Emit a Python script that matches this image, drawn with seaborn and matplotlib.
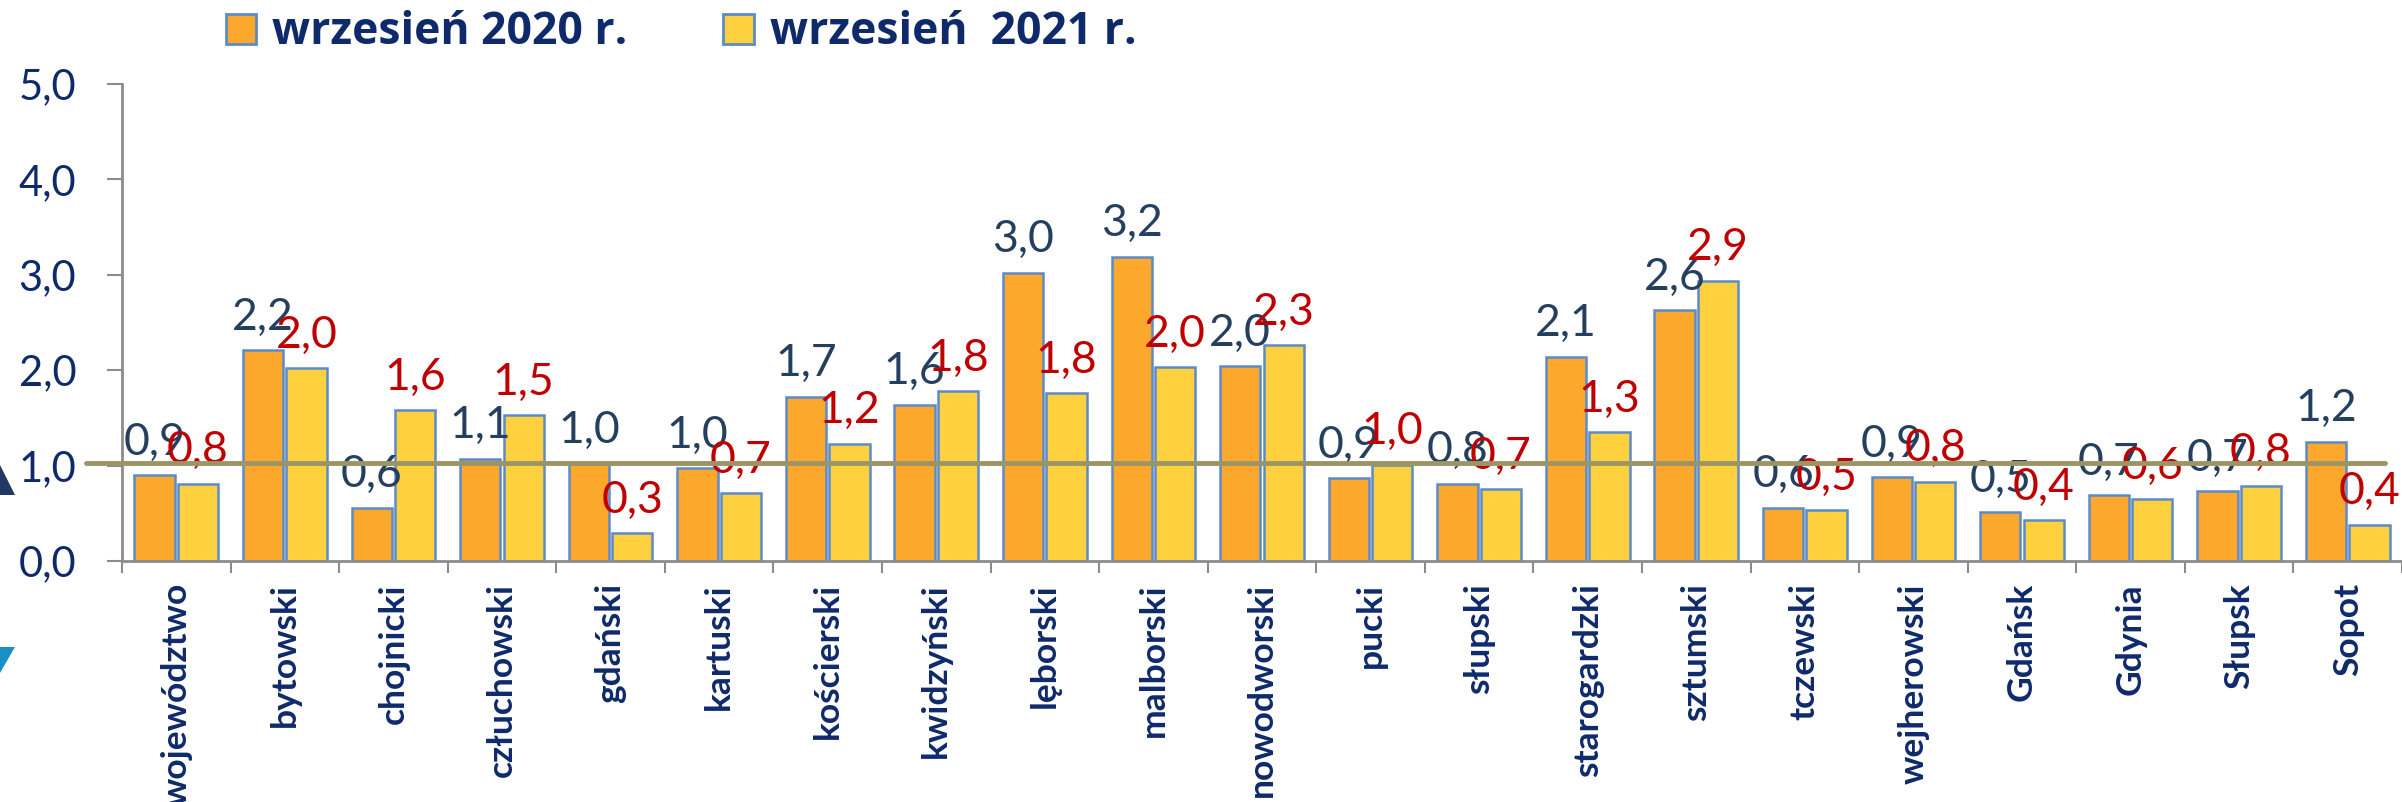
import matplotlib
matplotlib.use("Agg")
import matplotlib.pyplot as plt
import seaborn as sns
import pandas as pd
import numpy as np
from matplotlib.patches import Patch, Polygon
from matplotlib.ticker import FuncFormatter

# ---------------- data ----------------
categories = ["województwo", "bytowski", "chojnicki", "człuchowski", "gdański",
              "kartuski", "kościerski", "kwidzyński", "lęborski", "malborski",
              "nowodworski", "pucki", "słupski", "starogardzki", "sztumski",
              "tczewski", "wejherowski", "Gdańsk", "Gdynia", "Słupsk", "Sopot"]
series_names = ["wrzesień 2020 r.", "wrzesień  2021 r."]
values_2020 = [0.90, 2.21, 0.56, 1.07, 1.02, 0.97, 1.72, 1.64, 3.02, 3.19, 2.04,
               0.87, 0.81, 2.14, 2.63, 0.56, 0.88, 0.51, 0.69, 0.73, 1.25]
values_2021 = [0.81, 2.02, 1.58, 1.53, 0.29, 0.71, 1.23, 1.78, 1.76, 2.03, 2.26,
               1.01, 0.75, 1.35, 2.94, 0.53, 0.83, 0.43, 0.65, 0.79, 0.38]
labels_2020 = [0.9, 2.2, 0.6, 1.1, 1.0, 1.0, 1.7, 1.6, 3.0, 3.2, 2.0,
               0.9, 0.8, 2.1, 2.6, 0.6, 0.9, 0.5, 0.7, 0.7, 1.2]
labels_2021 = [0.8, 2.0, 1.6, 1.5, 0.3, 0.7, 1.2, 1.8, 1.8, 2.0, 2.3,
               1.0, 0.7, 1.3, 2.9, 0.5, 0.8, 0.4, 0.6, 0.8, 0.4]
y_ticks = [0, 1, 2, 3, 4, 5]
reference_level = 1.03

# ---------------- style ----------------
ORANGE = "#FCA82D"
YELLOW = "#FFD13E"
EDGE = "#5B8BCB"
NAVY = "#0F2A6B"
LABEL20 = "#253F5F"
LABEL21 = "#C00000"
GRID_GRAY = "#8C8C8C"
REF_COLOR = "#9B9565"

sns.set_theme(style="white")
plt.rcParams["font.family"] = ["Lato", "DejaVu Sans"]

df = pd.DataFrame({
    "kategoria": categories * 2,
    "wartość": values_2020 + values_2021,
    "seria": [series_names[0]] * len(categories) + [series_names[1]] * len(categories),
})

W, H = 2402, 802
fig = plt.figure(figsize=(W / 100, H / 100), dpi=100)
ax = fig.add_axes([122 / W, 1 - 561 / H, (W - 122) / W, (561 - 84) / H])

sns.barplot(data=df, x="kategoria", y="wartość", hue="seria",
            palette=[ORANGE, YELLOW], saturation=1, width=0.8, gap=0.07,
            edgecolor=EDGE, linewidth=1.8, ax=ax, legend=False, errorbar=None)

def fmt(v):
    return f"{v:.1f}".replace(".", ",")

ax.bar_label(ax.containers[0], labels=[fmt(v) for v in labels_2020],
             padding=9, color=LABEL20, fontsize=32)
ax.bar_label(ax.containers[1], labels=[fmt(v) for v in labels_2021],
             padding=9, color=LABEL21, fontsize=32)

# reference line
ax.axhline(reference_level, xmin=-0.0158, xmax=0.9925, color=REF_COLOR,
           lw=3.5, clip_on=False, zorder=5)

# axes
ax.set_ylim(0, 5)
ax.set_xlim(-0.5, len(categories) - 0.5)
ax.set_yticks(y_ticks)
ax.yaxis.set_major_formatter(FuncFormatter(lambda v, p: fmt(v)))
ax.set_xlabel("")
ax.set_ylabel("")
ax.set_xticks(range(len(categories)))
ax.set_xticklabels(categories, rotation=90, fontweight="bold", fontsize=25.5,
                   color=NAVY, va="top", ha="center")
ax.set_xticks(np.arange(-0.5, len(categories), 1), minor=True)
ax.tick_params(axis="x", which="major", length=0, pad=16)
ax.tick_params(axis="x", which="minor", length=8.6, width=1.5, color=GRID_GRAY,
               direction="out", bottom=True)
ax.tick_params(axis="y", which="major", length=11, width=1.5, color=GRID_GRAY,
               direction="out", left=True, labelsize=30, labelcolor=NAVY, pad=22)
for s in ["top", "right"]:
    ax.spines[s].set_visible(False)
for s in ["left", "bottom"]:
    ax.spines[s].set_color(GRID_GRAY)
    ax.spines[s].set_linewidth(2)

# legend
handles = [Patch(facecolor=ORANGE, edgecolor=EDGE, linewidth=2),
           Patch(facecolor=YELLOW, edgecolor=EDGE, linewidth=2)]
fig.legend(handles=handles, labels=series_names, ncol=2, loc="center left",
           bbox_to_anchor=(226 / W, 1 - 33 / H), frameon=False,
           prop={"family": "Open Sans", "weight": "bold", "size": 32},
           labelcolor=NAVY, handlelength=0.68, handleheight=0.68,
           handletextpad=0.36, columnspacing=2.16, borderpad=0, borderaxespad=0)

# decorative slide triangles at left edge
def fpoly(pts, color):
    fig.patches.append(Polygon([(x / W, 1 - y / H) for x, y in pts], closed=True,
                               facecolor=color, edgecolor="none",
                               transform=fig.transFigure, figure=fig))

fpoly([(0, 465), (15, 495), (0, 495)], "#1F3864")
fpoly([(0, 647), (15, 647), (0, 673)], "#1A8FC4")

fig.savefig("out.png", dpi=100)
